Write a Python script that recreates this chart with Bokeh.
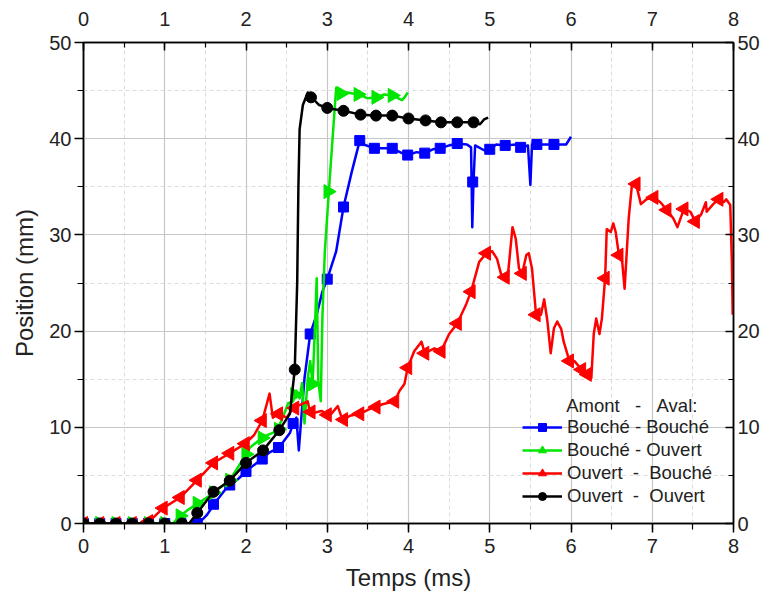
import math
from bokeh.plotting import figure
from bokeh.models import (Range1d, LinearAxis, SingleIntervalTicker, Legend, LegendItem, Label)
from bokeh.embed import file_html
from bokeh.resources import INLINE

# ---- data ----
x_ticks_interval = 1
y_ticks_interval = 10

bb_x = [0, 1.37, 1.45, 1.52, 1.56, 1.64, 1.76, 1.9, 2.01, 2.21, 2.29, 2.41, 2.45, 2.54, 2.58, 2.62, 2.65, 2.69,
        2.72, 2.79, 2.87, 2.94, 3.0, 3.11, 3.2, 3.3, 3.4, 3.45, 3.58, 3.8, 3.92, 3.99, 4.1, 4.2, 4.3, 4.39, 4.5,
        4.6, 4.72, 4.77, 4.785, 4.80, 4.82, 4.93, 5.0, 5.08, 5.19, 5.32, 5.38, 5.47, 5.5, 5.52, 5.58, 5.79, 5.94, 6.0]
bb_y = [0, 0, 0.3, 0.9, 1.4, 2.4, 3.7, 4.6, 5.5, 6.8, 7.4, 7.9, 8.4, 9.4, 10.4, 11.0, 7.6, 12.0,
        15.1, 19.7, 21.7, 24.1, 25.4, 28.3, 32.9, 36.5, 39.8, 39.4, 39.0, 39.0, 38.5, 38.3, 38.6, 38.5, 38.9, 39.0, 39.3,
        39.5, 39.4, 39.1, 30.8, 35.5, 39.3, 38.8, 38.9, 39.4, 39.3, 39.4, 39.1, 39.3, 35.2, 39.4, 39.4, 39.4, 39.4, 40.2]
bb_mx = [0, 0.2, 0.4, 0.6, 0.8, 1.0, 1.2, 1.4, 1.6, 1.8, 2.0, 2.2, 2.4, 2.58, 2.79, 3.0, 3.2, 3.4, 3.58, 3.8,
         3.99, 4.2, 4.39, 4.6, 4.79, 5.0, 5.19, 5.38, 5.58, 5.79]
bb_my = [0, 0, 0, 0, 0, 0, 0, 0, 2.0, 4.0, 5.4, 6.7, 7.9, 10.4, 19.7, 25.4, 32.9, 39.8, 39.0, 39.0,
         38.3, 38.5, 39.0, 39.5, 35.5, 38.9, 39.3, 39.1, 39.4, 39.4]

bo_x = [0, 1.1, 1.19, 1.3, 1.45, 1.6, 1.8, 2.01, 2.05, 2.21, 2.38, 2.45, 2.52, 2.58, 2.62, 2.66, 2.69, 2.72,
        2.76, 2.79, 2.82, 2.85, 2.87, 2.89, 2.92, 2.94, 2.97, 3.04, 3.11, 3.15, 3.25, 3.38, 3.5, 3.6, 3.7, 3.8,
        3.92, 3.96, 3.99]
bo_y = [0, 0, 0.8, 1.5, 2.3, 3.2, 4.5, 7.3, 7.9, 9.0, 9.6, 11.0, 12.5, 12.7, 13.8, 13.0, 14.6, 10.4,
        15.1, 16.9, 14.5, 20.7, 25.5, 14.8, 12.7, 21.3, 28.3, 37.0, 45.3, 44.6, 44.8, 44.6, 44.2, 44.3, 44.6, 44.5,
        44.0, 44.4, 44.8]
bo_mx = [0, 0.2, 0.4, 0.6, 0.8, 1.0, 1.19, 1.4, 1.6, 1.8, 2.0, 2.2, 2.4, 2.6, 2.82, 3.01, 3.17, 3.38, 3.6, 3.8]
bo_my = [0, 0, 0, 0, 0, 0, 0.8, 2.1, 3.2, 4.5, 7.2, 8.9, 9.8, 13.4, 14.5, 34.5, 44.7, 44.6, 44.3, 44.5]

ob_x = [0, 0.74, 0.82, 0.98, 1.19, 1.4, 1.6, 1.8, 1.99, 2.1, 2.2, 2.29, 2.33, 2.4, 2.5, 2.58, 2.76, 2.79, 2.93,
        3.03, 3.13, 3.19, 3.28, 3.4, 3.52, 3.68, 3.83, 3.89, 3.95, 3.99, 4.07, 4.16, 4.2, 4.32, 4.4, 4.5, 4.6,
        4.71, 4.77, 4.87, 4.96, 5.03, 5.09, 5.14, 5.22, 5.28, 5.32, 5.36, 5.4, 5.45, 5.48, 5.52, 5.57, 5.63,
        5.67, 5.71, 5.75, 5.79, 5.83, 5.88, 5.91, 5.98, 6.04, 6.13, 6.25, 6.28, 6.31, 6.35, 6.38, 6.42, 6.44,
        6.49, 6.52, 6.55, 6.59, 6.63, 6.66, 6.71, 6.75, 6.8, 6.86, 6.93, 7.02, 7.1, 7.18, 7.26, 7.31, 7.39,
        7.47, 7.53, 7.6, 7.66, 7.67, 7.75, 7.82, 7.88, 7.91, 7.96, 7.98, 7.99]
ob_y = [0, 0, 0.3, 1.6, 2.7, 4.5, 6.3, 7.3, 8.3, 9.2, 10.7, 13.5, 11.0, 11.4, 11.0, 12.0, 12.7, 11.4, 11.7,
        11.2, 12.2, 10.7, 11.2, 11.4, 11.9, 12.4, 12.7, 13.8, 14.5, 16.2, 17.9, 18.9, 17.7, 18.2, 17.9, 19.7, 20.8,
        22.8, 24.1, 27.2, 28.1, 28.3, 27.5, 25.9, 25.5, 30.8, 29.6, 26.5, 26.0, 27.9, 28.1, 26.5, 21.7, 21.7,
        23.3, 21.0, 17.7, 20.3, 21.0, 20.2, 18.9, 16.9, 16.9, 16.0, 15.1, 19.7, 21.3, 19.7, 21.3, 25.5, 30.6,
        30.3, 31.2, 30.3, 27.9, 27.2, 24.4, 31.7, 35.2, 35.3, 33.2, 33.7, 33.9, 33.4, 32.6, 31.7, 30.8, 32.7,
        32.4, 31.4, 32.1, 33.4, 32.4, 33.2, 33.7, 33.4, 33.7, 33.1, 27.2, 21.7]
ob_mx = [0, 0.2, 0.4, 0.6, 0.8, 0.98, 1.19, 1.4, 1.6, 1.8, 1.99, 2.2, 2.4, 2.6, 2.8, 3.0, 3.2, 3.4, 3.6, 3.83,
         3.99, 4.2, 4.4, 4.6, 4.77, 4.96, 5.19, 5.4, 5.57, 5.98, 6.13, 6.2, 6.42, 6.59, 6.8, 7.02, 7.18, 7.39,
         7.53, 7.82]
ob_my = [0, 0, 0, 0, 0.2, 1.6, 2.7, 4.5, 6.3, 7.3, 8.3, 10.7, 11.4, 12.0, 11.6, 11.3, 10.8, 11.4, 12.1, 12.7,
         16.2, 17.7, 17.9, 20.8, 24.1, 28.1, 25.6, 26.0, 21.7, 16.9, 16.0, 15.5, 25.5, 27.9, 35.3, 33.9, 32.6, 32.7,
         31.4, 33.7]

oo_x = [0, 1.3, 1.4, 1.6, 1.8, 2.0, 2.21, 2.41, 2.54, 2.6, 2.63, 2.645, 2.66, 2.7, 2.76, 2.82, 2.9, 3.0, 3.2,
        3.41, 3.6, 3.8, 4.0, 4.21, 4.4, 4.6, 4.8, 4.88, 4.93, 4.98]
oo_y = [0, 0, 1.1, 3.3, 4.45, 6.3, 7.6, 9.7, 11.4, 16.0, 25.0, 35.0, 41.0, 43.5, 44.8, 44.2, 43.5, 43.2, 42.9,
        42.5, 42.4, 42.4, 42.1, 41.9, 41.7, 41.7, 41.7, 41.5, 42.0, 42.2]
oo_mx = [0, 0.2, 0.4, 0.6, 0.8, 1.0, 1.21, 1.4, 1.6, 1.8, 2.0, 2.21, 2.41, 2.6, 2.8, 3.0, 3.2, 3.41, 3.6, 3.8,
         4.0, 4.21, 4.4, 4.6, 4.8]
oo_my = [0, 0, 0, 0, 0, 0, 0, 1.1, 3.3, 4.45, 6.3, 7.6, 9.7, 16.0, 44.3, 43.2, 42.9, 42.5, 42.4, 42.4,
         42.1, 41.9, 41.7, 41.7, 41.7]

NB = "\u00a0"
legend_title = "Amont" + NB * 3 + "-" + NB * 3 + "Aval:"
labels = ["Bouché - Bouché", "Bouché - Ouvert",
          "Ouvert" + NB * 2 + "-" + NB * 2 + "Bouché", "Ouvert" + NB * 2 + "-" + NB * 2 + "Ouvert"]
x_label = "Temps (ms)"
y_label = "Position (mm)"

FONT = "Liberation Sans"

p = figure(width=762, height=593, output_backend="svg", toolbar_location=None,
           x_range=Range1d(0, 8), y_range=Range1d(0, 50),
           min_border_left=83, min_border_right=27, min_border_top=42, min_border_bottom=69,
           x_axis_label=x_label, y_axis_label=y_label)
p.background_fill_color = "white"
p.border_fill_color = "white"
p.outline_line_color = "black"
p.outline_line_width = 1.5

xt = SingleIntervalTicker(interval=x_ticks_interval, num_minor_ticks=2)
yt = SingleIntervalTicker(interval=y_ticks_interval, num_minor_ticks=2)

def style_axis(ax, inward):
    ax.axis_line_color = "black"
    ax.axis_line_width = 1.5
    ax.major_tick_line_color = "black"
    ax.minor_tick_line_color = "black"
    ax.major_tick_line_width = 1.5
    ax.minor_tick_line_width = 1.2
    if inward:
        ax.major_tick_in, ax.major_tick_out = 8, 0
        ax.minor_tick_in, ax.minor_tick_out = 5, 0
    else:
        ax.major_tick_in, ax.major_tick_out = 0, 9
        ax.minor_tick_in, ax.minor_tick_out = 0, 6
    ax.major_label_text_font = FONT
    ax.major_label_text_font_size = "20px"
    ax.major_label_text_color = "#222222"
    ax.axis_label_text_font = FONT
    ax.axis_label_text_font_size = "24px"
    ax.axis_label_text_font_style = "normal"
    ax.axis_label_text_color = "#222222"

p.xaxis.ticker = xt
p.yaxis.ticker = yt
style_axis(p.xaxis[0], False)
style_axis(p.yaxis[0], False)
p.xaxis.major_label_standoff = 6
p.xaxis.axis_label_standoff = 8
p.yaxis.major_label_standoff = 3
p.yaxis.axis_label_standoff = 8

top = LinearAxis(ticker=SingleIntervalTicker(interval=x_ticks_interval, num_minor_ticks=2))
style_axis(top, True)
top.major_label_standoff = 17
p.add_layout(top, "above")
right = LinearAxis(ticker=SingleIntervalTicker(interval=y_ticks_interval, num_minor_ticks=2))
style_axis(right, True)
right.major_label_standoff = 4
p.add_layout(right, "right")

for g in (p.xgrid[0], p.ygrid[0]):
    g.grid_line_color = "#c6c6c6"
    g.grid_line_width = 1.2
    g.minor_grid_line_color = "#dcdcdc"
    g.minor_grid_line_dash = "4 3"
    g.minor_grid_line_width = 1
p.xgrid.ticker = xt
p.ygrid.ticker = yt

LW = 2.5
series = [
    (bb_x, bb_y, bb_mx, bb_my, "#0000ff", "square", 0.0, 10),
    (bo_x, bo_y, bo_mx, bo_my, "#00e600", "triangle", -math.pi / 2, 14),
    (ob_x, ob_y, ob_mx, ob_my, "#ff0000", "triangle", math.pi / 2, 14),
    (oo_x, oo_y, oo_mx, oo_my, "#000000", "circle", 0.0, 11),
]
items = []
for (lx, ly, mx, my, col, mk, ang, sz), lab in zip(series, labels):
    r1 = p.line(lx, ly, line_color=col, line_width=LW, line_join="round")
    r2 = p.scatter(mx, my, marker=mk, angle=ang, size=sz, fill_color=col, line_color=col)
    items.append(LegendItem(label=lab, renderers=[r1, r2]))

legend = Legend(items=items, location=(439, 16), padding=0, margin=0, spacing=1,
                glyph_width=40, glyph_height=20, label_height=20, label_standoff=5,
                label_text_font=FONT, label_text_font_size="18.5px", label_text_color="#222222",
                background_fill_alpha=0, border_line_color=None)
p.add_layout(legend)

p.add_layout(Label(x=5.94, y=12.3, text=legend_title, text_font=FONT, text_font_size="18.5px",
                   text_color="#222222", text_baseline="middle"))

open("out.html", "w").write(file_html(p, INLINE))
